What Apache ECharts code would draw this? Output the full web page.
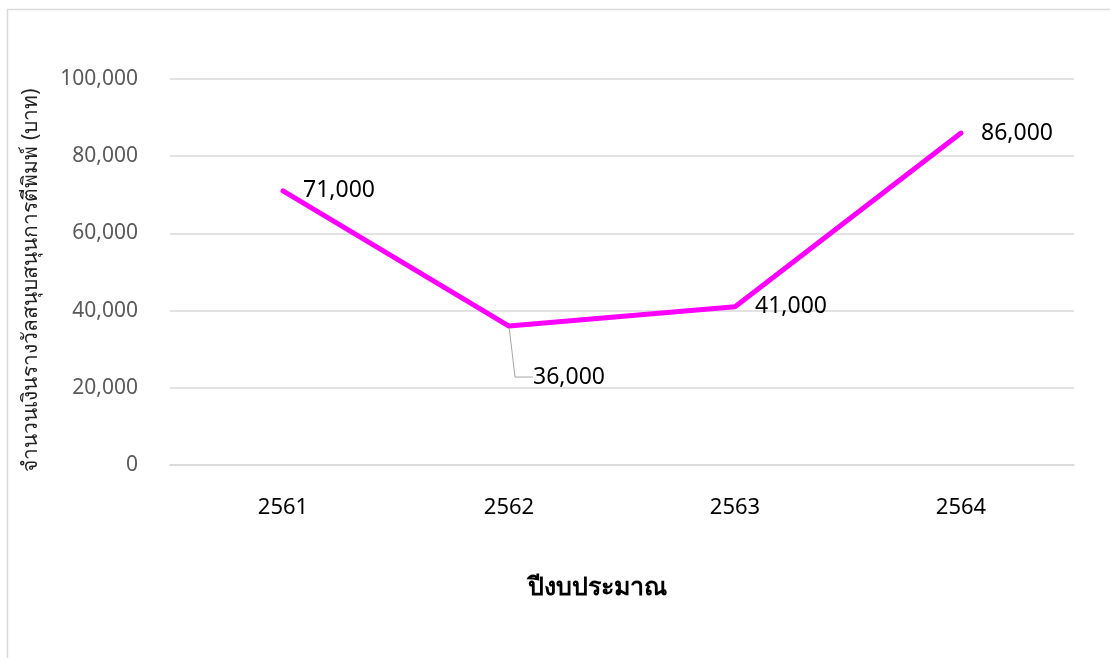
<!DOCTYPE html>
<html lang="th">
<head>
<meta charset="UTF-8">
<title>chart</title>
<script src="https://cdn.jsdelivr.net/npm/echarts@6/dist/echarts.min.js"></script>
<style>
  html, body { margin: 0; padding: 0; background: #fff; }
  #main { width: 1110px; height: 658px; }
</style>
</head>
<body>
<div id="main"></div>
<script>
// ข้อมูล
var years = ['2561', '2562', '2563', '2564'];
var amounts = [71000, 36000, 41000, 86000];
var yTitle = 'จำนวนเงินรางวัลสนุบสนุนการตีพิมพ์ (บาท)';
var xTitle = 'ปีงบประมาณ';

var font = '"Noto Sans", "Open Sans", sans-serif';
var chart = echarts.init(document.getElementById('main'));

// ป้ายของปี 2562 ถูกย้ายลงด้านล่าง มีเส้นชี้
var seriesData = amounts.map(function (v, i) {
  if (i === 1) {
    return {
      value: v,
      labelLine: { show: true, length2: 18, lineStyle: { color: '#a6a6a6', width: 1 } }
    };
  }
  return v;
});

var option = {
  backgroundColor: '#fff',
  animation: false,
  // กรอบนอกของแผนภูมิ
  graphic: [{
    type: 'rect',
    shape: { x: 7.5, y: 9.5, width: 1120, height: 660 },
    style: { fill: 'none', stroke: '#d9d9d9', lineWidth: 1.5 },
    silent: true
  }],
  grid: { left: 170, right: 36, top: 79, bottom: 193 },
  xAxis: {
    type: 'category',
    data: years,
    boundaryGap: true,
    name: xTitle,
    nameLocation: 'middle',
    nameGap: 110,
    nameTextStyle: {
      fontFamily: font, fontSize: 25, fontWeight: 'bold', color: '#000',
      padding: [0, 50, 0, 0]
    },
    axisLine: { lineStyle: { color: '#d9d9d9', width: 1.5 } },
    axisTick: { show: false },
    axisLabel: { fontFamily: font, fontSize: 22, color: '#000', margin: 32 }
  },
  yAxis: {
    type: 'value',
    min: 0,
    max: 100000,
    interval: 20000,
    name: yTitle,
    nameLocation: 'middle',
    nameGap: 128,
    nameTextStyle: { fontFamily: font, fontSize: 21, color: '#222', padding: [0, 16, 0, 0] },
    axisLine: { show: false },
    axisTick: { show: false },
    splitLine: { lineStyle: { color: '#d9d9d9', width: 1.5 } },
    axisLabel: {
      fontFamily: font, fontSize: 21, color: '#595959', margin: 32,
      formatter: function (v) { return v.toLocaleString('en-US'); }
    }
  },
  series: [{
    type: 'line',
    data: seriesData,
    symbol: 'circle',
    symbolSize: 4,
    showSymbol: true,
    lineStyle: { color: '#ff00ff', width: 5, cap: 'round', join: 'round' },
    itemStyle: { color: '#ff00ff' },
    label: {
      show: true,
      position: 'right',
      distance: 18,
      fontFamily: font,
      fontSize: 23,
      color: '#000',
      formatter: function (p) { return p.value.toLocaleString('en-US'); }
    },
    labelLayout: function (params) {
      if (params.dataIndex === 1) {
        return { dx: 4, dy: 51 };
      }
      return {};
    }
  }]
};

chart.setOption(option);
</script>
</body>
</html>
